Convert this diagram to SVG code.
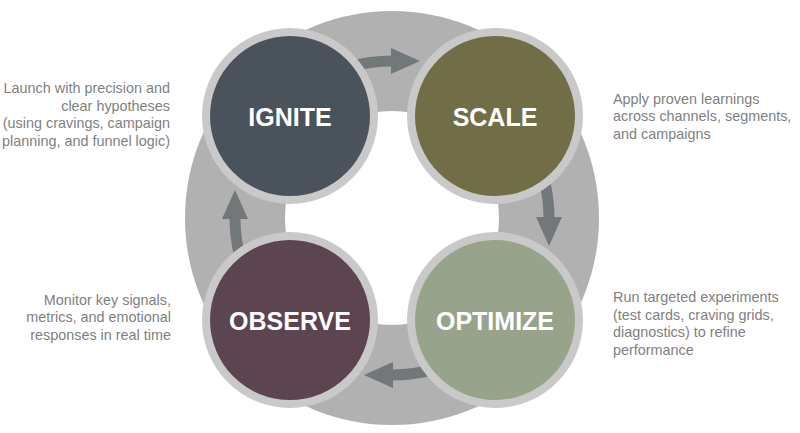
<svg xmlns="http://www.w3.org/2000/svg" width="800" height="433" viewBox="0 0 800 433">
<style>
.ring{fill:none;stroke:#b1b1b1;stroke-width:100}
.halo{fill:#c9c9c9}
.lbl{font-family:"Liberation Sans",Arial,sans-serif;font-weight:bold;font-size:25px;fill:#ffffff;text-anchor:middle}
.desc{font-family:"Liberation Sans",Arial,sans-serif;font-size:14.4px;fill:#7f7f7f}
.arrow{fill:none;stroke:#72777a;stroke-width:11;marker-end:url(#ah)}
</style>
<defs>
<marker id="ah" markerUnits="userSpaceOnUse" markerWidth="30" markerHeight="26" viewBox="0 0 30 26" refX="1" refY="13" orient="auto">
<path d="M0,0 L29,13 L0,26 Z" fill="#72777a"/>
</marker>
</defs>
<rect width="800" height="433" fill="#ffffff"/>
<circle class="ring" cx="392" cy="218" r="157"/>
<g id="connectors">
<path class="arrow" d="M348.7,67.1 A157,157 0 0 1 392,61"/>
<path class="arrow" d="M542.9,174.7 A157,157 0 0 1 549,218"/>
<path class="arrow" d="M435.3,368.9 A157,157 0 0 1 392,375"/>
<path class="arrow" d="M241.1,261.3 A157,157 0 0 1 235,218"/>
</g>
<g id="ignite">
<circle class="halo" cx="290" cy="116" r="88"/>
<circle cx="290" cy="116" r="80" fill="#4a535c"/>
<text class="lbl" x="290" y="125.5">IGNITE</text>
</g>
<g id="scale">
<circle class="halo" cx="495" cy="116" r="88"/>
<circle cx="495" cy="116" r="80" fill="#716e47"/>
<text class="lbl" x="495" y="125.5">SCALE</text>
</g>
<g id="observe">
<circle class="halo" cx="290" cy="320" r="88"/>
<circle cx="290" cy="320" r="80" fill="#5c4551"/>
<text class="lbl" x="290" y="329.5">OBSERVE</text>
</g>
<g id="optimize">
<circle class="halo" cx="495" cy="320" r="88"/>
<circle cx="495" cy="320" r="80" fill="#98a38c"/>
<text class="lbl" x="495" y="329.5">OPTIMIZE</text>
</g>
<g id="desc-ignite">
<text class="desc" text-anchor="end" x="170" y="93">Launch with precision and</text>
<text class="desc" text-anchor="end" x="170" y="110.5">clear hypotheses</text>
<text class="desc" text-anchor="end" x="170" y="128">(using cravings, campaign</text>
<text class="desc" text-anchor="end" x="170" y="145.5">planning, and funnel logic)</text>
</g>
<g id="desc-scale">
<text class="desc" x="613" y="103.5">Apply proven learnings</text>
<text class="desc" x="613" y="121">across channels, segments,</text>
<text class="desc" x="613" y="138.5">and campaigns</text>
</g>
<g id="desc-optimize">
<text class="desc" x="613" y="302">Run targeted experiments</text>
<text class="desc" x="613" y="319.5">(test cards, craving grids,</text>
<text class="desc" x="613" y="337">diagnostics) to refine</text>
<text class="desc" x="613" y="354.5">performance</text>
</g>
<g id="desc-observe">
<text class="desc" text-anchor="end" x="171" y="304.5">Monitor key signals,</text>
<text class="desc" text-anchor="end" x="171" y="322">metrics, and emotional</text>
<text class="desc" text-anchor="end" x="171" y="339.5">responses in real time</text>
</g>
</svg>
